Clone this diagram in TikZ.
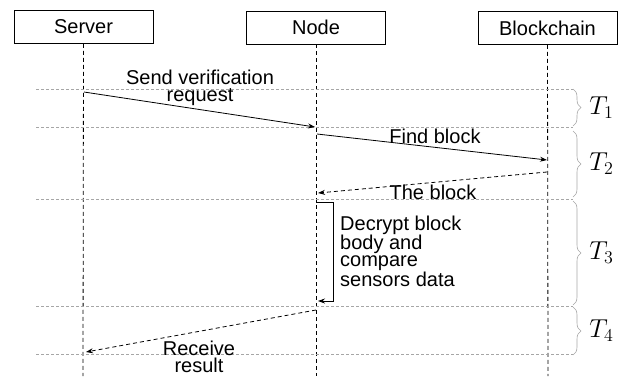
\documentclass[tikz,border=0pt]{standalone}
\usepackage{amsmath}
\usepackage{fontspec}
\setmainfont{Liberation Sans}
\usetikzlibrary{arrows.meta,decorations.pathreplacing}
\newcommand{\tphase}[1]{\scalebox{1.25}{$T_{#1}$}}

\begin{document}
\begin{tikzpicture}[x=1pt,y=-1pt,font=\fontsize{20}{17}\selectfont]
\tikzstyle{every node}+=[inner sep=0pt]
\tikzstyle{actor}=[draw,line width=0.8pt,minimum width=139pt,minimum height=33pt]
\tikzstyle{lifeline}=[line width=0.8pt,dash pattern=on 4pt off 3pt]
\tikzstyle{phase}=[gray!70,line width=0.6pt,dash pattern=on 3pt off 2pt]
\tikzstyle{msg}=[line width=0.8pt,-{Stealth[length=7pt,width=5pt]}]
\tikzstyle{reply}=[msg,dash pattern=on 4pt off 3pt]
\tikzstyle{timebrace}=[gray!70,line width=0.6pt,decorate,decoration={brace,amplitude=8pt}]
\tikzstyle{phaselabel}=[black,right=16pt]
\useasboundingbox (0,0) rectangle (622,376);
% actors
\node [actor] (server) at (83.5,27) {Server};
\node [actor] (node) at (316,27.5) {Node};
\node [actor] (chain) at (547.5,28) {Blockchain};
\coordinate (serverend) at (83,376);
\coordinate (nodeend) at (316,376);
\coordinate (chainend) at (548,376);
\draw [lifeline] (server.south) -- (serverend);
\draw [lifeline] (node.south) -- (nodeend);
\draw [lifeline] (chain.south) -- (chainend);
% phases
\foreach \y in {89,127,199,306,354}
  \draw [phase] (36,\y) -- (573,\y);
\draw [timebrace] (573,89) -- (573,126) node [midway,phaselabel] {\tphase{1}};
\draw [timebrace] (573,131) -- (573,197) node [midway,phaselabel] {\tphase{2}};
\draw [timebrace] (573,201) -- (573,305) node [midway,phaselabel] {\tphase{3}};
\draw [timebrace] (573,307) -- (573,355) node [midway,phaselabel] {\tphase{4}};
% messages
\coordinate (req1) at (84,92);
\coordinate (req2) at (315,127);
\draw [msg] (req1) -- (req2);
\node [align=center] (reqlabel) at (200,88) {Send verification\\request};
\coordinate (find1) at (317,134);
\coordinate (find2) at (547,160);
\draw [msg] (find1) -- (find2);
\node (findlabel) at (435,136) {Find block};
\coordinate (blk1) at (547,172);
\coordinate (blk2) at (318,193);
\draw [reply] (blk1) -- (blk2);
\node (blklabel) at (433,192) {The block};
\coordinate (dec1) at (316,202);
\coordinate (dec2) at (318,301);
\draw [msg] (dec1) -- ++(17,0) |- (dec2);
\node [align=left,anchor=west] (declabel) at (340,251) {Decrypt block\\body and\\compare\\sensors data};
\coordinate (res1) at (316,310);
\coordinate (res2) at (86,352);
\draw [reply] (res1) -- (res2);
\node [align=center] (reslabel) at (199,357) {Receive\\result};
\end{tikzpicture}
\end{document}
